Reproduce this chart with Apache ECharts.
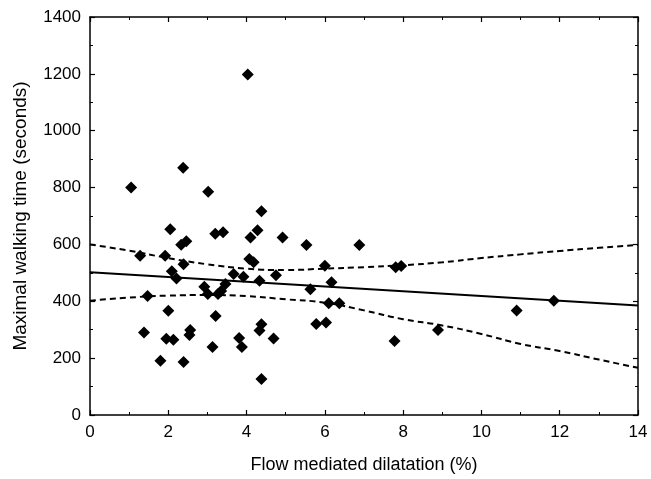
<!DOCTYPE html>
<html>
<head>
<meta charset="utf-8">
<script src="https://cdn.jsdelivr.net/npm/echarts@6/dist/echarts.min.js"></script>
<style>html,body{margin:0;padding:0;background:#fff}#c{width:651px;height:479px}</style>
</head>
<body>
<div id="c"></div>
<script>
// Scatter data: flow mediated dilatation (%) vs maximal walking time (s)
const fmd = [1.05, 2.38, 3.02, 4.38, 2.05, 3.20, 3.40, 4.28, 4.10, 4.92, 2.33, 2.46, 1.28, 1.92, 4.07, 4.18, 2.39, 2.09, 2.21, 3.67, 3.92, 4.33, 4.75,
  2.92, 3.01, 3.27, 3.35, 3.46, 1.47, 2.00, 3.21, 1.38, 2.56, 2.54, 1.95, 2.13, 3.13, 3.81, 3.88, 4.38, 4.33, 4.69, 1.80, 2.39, 4.38,
  5.53, 6.88, 6.00, 7.81, 7.95, 5.63, 6.17, 6.10, 6.37, 5.78, 6.03, 7.78, 8.89, 11.85, 10.90, 4.03];
const walk = [800, 870, 785, 717, 653, 638, 643, 650, 624, 624, 599, 611, 560, 560, 549, 537, 530, 506, 480, 496, 486, 472, 492,
  451, 426, 426, 436, 461, 419, 367, 348, 290, 299, 281, 268, 265, 239, 271, 239, 319, 297, 269, 191, 186, 127,
  598, 598, 525, 520, 524, 442, 467, 393, 393, 320, 325, 260, 299, 402, 368, 1198];

// Regression line and confidence band
const fitX = [0, 14];
const fitY = [502, 385];
const bandX = [0, 1, 2, 3, 4, 5, 6, 7, 8, 9, 10, 11, 12, 13, 14];
const upperY = [600, 578, 552, 530, 515, 510, 515, 520, 527, 537, 552, 565, 577, 588, 598];
const lowerY = [402, 413, 420, 422, 418, 407, 395, 368, 337, 315, 285, 250, 225, 195, 166];

const xName = 'Flow mediated dilatation (%)';
const yName = 'Maximal walking time (seconds)';

const pts = fmd.map((x, i) => [x, walk[i]]);
const fit = fitX.map((x, i) => [x, fitY[i]]);
const up = bandX.map((x, i) => [x, upperY[i]]);
const lo = bandX.map((x, i) => [x, lowerY[i]]);

const font = 'Liberation Sans, Arial, sans-serif';
const axLine = {show: true, onZero: false, lineStyle: {color: '#000', width: 1.5}};
const tick = {show: true, inside: true, length: 5, lineStyle: {color: '#000', width: 1.2}};
const minor = {show: true, splitNumber: 2, length: 3, lineStyle: {color: '#000', width: 1}};
const plain = v => String(v);

const chart = echarts.init(document.getElementById('c'), null, {renderer: 'canvas'});
chart.setOption({
  animation: false,
  backgroundColor: '#fff',
  grid: {left: 90, top: 17, right: 13, bottom: 64},
  xAxis: [{
    type: 'value', min: 0, max: 14, interval: 2, position: 'bottom',
    axisLine: axLine, axisTick: tick, minorTick: minor, splitLine: {show: false},
    axisLabel: {color: '#000', fontSize: 17, fontFamily: font, margin: 9, formatter: plain},
    name: xName, nameLocation: 'middle', nameGap: 41,
    nameTextStyle: {color: '#000', fontSize: 18, fontFamily: font}
  }, {
    type: 'value', min: 0, max: 14, interval: 2, position: 'top',
    axisLine: axLine, axisTick: tick, minorTick: minor, splitLine: {show: false},
    axisLabel: {show: false}
  }],
  yAxis: [{
    type: 'value', min: 0, max: 1400, interval: 200, position: 'left',
    axisLine: axLine, axisTick: tick, minorTick: minor, splitLine: {show: false},
    axisLabel: {color: '#000', fontSize: 17, fontFamily: font, margin: 9, formatter: plain},
    name: yName, nameLocation: 'middle', nameGap: 60, nameRotate: 90,
    nameTextStyle: {color: '#000', fontSize: 19, fontFamily: font}
  }, {
    type: 'value', min: 0, max: 1400, interval: 200, position: 'right',
    axisLine: axLine, axisTick: tick, minorTick: minor, splitLine: {show: false},
    axisLabel: {show: false}
  }],
  series: [
    {type: 'line', data: up, showSymbol: false, smooth: true, lineStyle: {color: '#000', width: 2, type: [6, 4]}, z: 2},
    {type: 'line', data: lo, showSymbol: false, smooth: true, lineStyle: {color: '#000', width: 2, type: [6, 4]}, z: 2},
    {type: 'line', data: fit, showSymbol: false, lineStyle: {color: '#000', width: 2}, z: 2},
    {type: 'scatter', data: pts, symbol: 'diamond', symbolSize: 12, itemStyle: {color: '#000', opacity: 1}, z: 3}
  ]
});
</script>
</body>
</html>
